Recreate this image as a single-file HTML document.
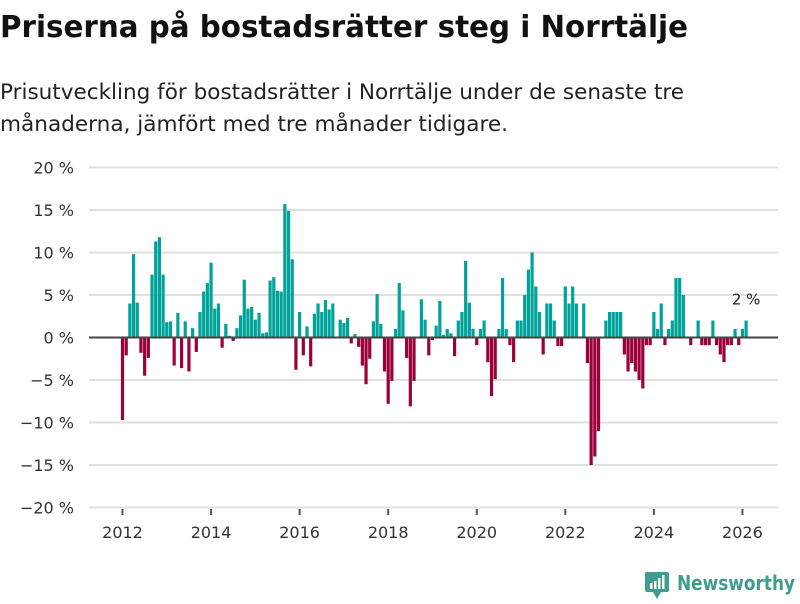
<!DOCTYPE html>
<html><head><meta charset="utf-8"><style>
body{margin:0;background:#fff;width:800px;height:600px;overflow:hidden;font-family:"DejaVu Sans","Liberation Sans",sans-serif}
</style></head><body>
<svg id="chart" width="800" height="600" xmlns="http://www.w3.org/2000/svg" font-family="DejaVu Sans, Liberation Sans, sans-serif">
<text x="0" y="37" font-size="30" font-weight="bold" fill="#111" textLength="688" lengthAdjust="spacingAndGlyphs">Priserna på bostadsrätter steg i Norrtälje</text>
<text x="0" y="99" font-size="21" fill="#222" textLength="684" lengthAdjust="spacingAndGlyphs">Prisutveckling för bostadsrätter i Norrtälje under de senaste tre</text>
<text x="0" y="131" font-size="21" fill="#222" textLength="508" lengthAdjust="spacingAndGlyphs">månaderna, jämfört med tre månader tidigare.</text>
<g id="grid"></g><g id="bars"></g><g id="axes"></g>
<g>
<rect x="645" y="572" width="24" height="20" rx="2" fill="#3f9c8f"/>
<polygon points="653,592 661,592 657,599" fill="#3f9c8f"/>
<rect x="650" y="583" width="2.5" height="6" fill="#fff"/><rect x="654" y="581" width="2.5" height="8" fill="#fff"/><rect x="658" y="578" width="2.5" height="11" fill="#fff"/><rect x="662" y="575" width="2.5" height="14" fill="#fff"/>
<text x="677" y="590" font-size="20" font-weight="bold" fill="#3f9c8f" textLength="118" lengthAdjust="spacingAndGlyphs">Newsworthy</text>
</g>
</svg>
<script>
const startYear = 2012;
const values = [-9.7,-2.1,4.0,9.8,4.1,-1.8,-4.5,-2.4,7.4,11.3,11.8,7.4,1.8,1.9,-3.3,2.9,-3.6,1.9,-4.0,1.1,-1.7,3.0,5.4,6.4,8.8,3.4,4.0,-1.2,1.6,0.2,-0.4,1.1,2.6,6.8,3.4,3.6,2.1,2.9,0.5,0.6,6.7,7.1,5.5,5.4,15.7,14.9,9.2,-3.8,3.0,-2.1,1.3,-3.4,2.8,4.0,3.0,4.4,3.3,4.0,0,2.1,1.7,2.3,-0.7,0.4,-1.1,-3.3,-5.5,-2.5,1.9,5.1,1.6,-4.0,-7.8,-5.1,1.0,6.4,3.2,-2.4,-8.1,-5.1,0,4.5,2.1,-2.1,-0.3,1.4,4.3,0.3,1.0,0.5,-2.2,2.0,3.0,9.0,4.1,1.0,-0.9,1.0,2.0,-2.9,-6.9,-4.9,1.0,7.0,1.0,-0.9,-2.9,2.0,2.0,5.0,8.0,10.0,6.0,3.0,-2.0,4.0,4.0,2.0,-1.0,-1.0,6.0,4.0,6.0,4.0,0,4.0,-3.0,-15.0,-14.0,-11.0,0,2.0,3.0,3.0,3.0,3.0,-2.0,-4.0,-3.0,-4.0,-5.0,-6.0,-0.9,-0.9,3.0,1.0,4.0,-0.9,1.0,2.0,7.0,7.0,5.0,0,-0.9,0,2.0,-0.9,-0.9,-0.9,2.0,-0.9,-2.0,-2.9,-0.9,-0.9,1.0,-0.9,1.0,2.0];
const yTicks = [20,15,10,5,0,-5,-10,-15,-20];
const xTickYears = [2012,2014,2016,2018,2020,2022,2024,2026];
const NS="http://www.w3.org/2000/svg";
function y(v){return 337.5 - v*8.5;}
function x(i){return 122.5 + i*3.69;}
function mk(tag,attrs,parent){const e=document.createElementNS(NS,tag);for(const k in attrs)e.setAttribute(k,attrs[k]);parent.appendChild(e);return e;}
const grid=document.getElementById('grid'),bars=document.getElementById('bars'),axes=document.getElementById('axes');
yTicks.forEach(t=>{
  if(t!==0){const l=mk('line',{x1:89,x2:778,y1:y(t),y2:y(t),stroke:'#e0e0e0','stroke-width':2},grid);
  
  }
  const tx=mk('text',{x:74,y:y(t)+6,'font-size':16,fill:'#333','text-anchor':'end'},axes);
  tx.textContent=(t<0?'\u2212'+(-t):t)+' %';
  
  
});
values.forEach((v,i)=>{
  if(v===0)return;
  const top=v>0?y(v):y(0), h=Math.abs(y(v)-y(0));
  const r=mk('rect',{x:x(i)-1.6,y:top,width:3.2,height:h,fill:v>0?'#00a39a':'#9b0039'},bars);
  
  
});
const zl=mk('line',{x1:89,x2:778,y1:y(0),y2:y(0),stroke:'#444','stroke-width':2},axes);


xTickYears.forEach(yr=>{
  const i=(yr-startYear)*12;
  const tk=mk('line',{x1:x(i),x2:x(i),y1:509,y2:515,stroke:'#555','stroke-width':2},axes);
  
  
  const t=mk('text',{x:x(i),y:538,'font-size':16,fill:'#333','text-anchor':'middle'},axes);
  t.textContent=yr;
  
  
});
const last=values.length-1;
const lab=mk('text',{x:x(last),y:y(values[last])-16,'font-size':15,fill:'#222','text-anchor':'middle'},axes);
lab.textContent=Math.round(values[last])+' %';


</script>
</body></html>
